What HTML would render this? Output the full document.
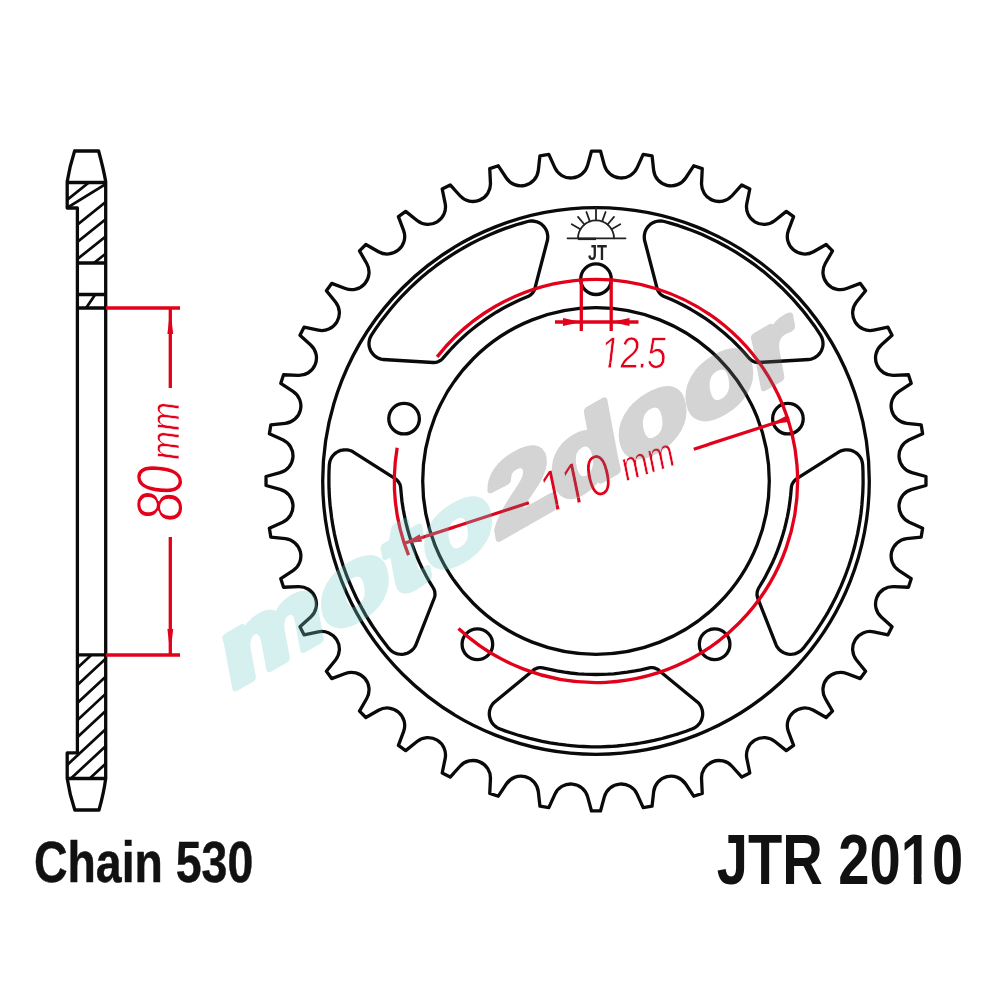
<!DOCTYPE html>
<html lang="en"><head><meta charset="utf-8"><title>JTR 2010 sprocket</title>
<style>
html,body{margin:0;padding:0;background:#fff;}
body{width:1000px;height:1000px;overflow:hidden;position:relative;font-family:"Liberation Sans",sans-serif;}
svg{position:absolute;left:0;top:0;display:block;}
text{font-family:"Liberation Sans",sans-serif;}
.k{fill:none;stroke:#0a0a0a;stroke-width:3.3;stroke-linejoin:round;stroke-linecap:round;}
.r{fill:none;stroke:#e2001a;stroke-width:3.3;stroke-linecap:butt;}
.rt{fill:#e2001a;font-style:italic;}
.lbl{fill:#111;font-weight:bold;}
</style></head><body>
<svg width="1000" height="1000" viewBox="0 0 1000 1000">
<rect width="1000" height="1000" fill="#fff"/>
<g opacity="0.999">
<path class="k" d="M591.50 151.03 L600.50 151.03 L604.34 165.10 A17.50 17.50 0 0 0 637.18 167.69 L643.17 154.39 L652.06 155.80 L653.66 170.30 A17.50 17.50 0 0 0 685.68 177.98 L693.69 165.79 L702.25 168.57 L701.55 183.14 A17.50 17.50 0 0 0 731.98 195.74 L741.79 184.95 L749.81 189.04 L746.85 203.32 A17.50 17.50 0 0 0 774.93 220.53 L786.31 211.40 L793.59 216.69 L788.43 230.34 A17.50 17.50 0 0 0 813.47 251.73 L826.14 244.49 L832.51 250.86 L825.27 263.53 A17.50 17.50 0 0 0 846.66 288.57 L860.31 283.41 L865.60 290.69 L856.47 302.07 A17.50 17.50 0 0 0 873.68 330.15 L887.96 327.19 L892.05 335.21 L881.26 345.02 A17.50 17.50 0 0 0 893.86 375.45 L908.43 374.75 L911.21 383.31 L899.02 391.32 A17.50 17.50 0 0 0 906.70 423.34 L921.20 424.94 L922.61 433.83 L909.31 439.82 A17.50 17.50 0 0 0 911.90 472.66 L925.97 476.50 L925.97 485.50 L911.90 489.34 A17.50 17.50 0 0 0 909.31 522.18 L922.61 528.17 L921.20 537.06 L906.70 538.66 A17.50 17.50 0 0 0 899.02 570.68 L911.21 578.69 L908.43 587.25 L893.86 586.55 A17.50 17.50 0 0 0 881.26 616.98 L892.05 626.79 L887.96 634.81 L873.68 631.85 A17.50 17.50 0 0 0 856.47 659.93 L865.60 671.31 L860.31 678.59 L846.66 673.43 A17.50 17.50 0 0 0 825.27 698.47 L832.51 711.14 L826.14 717.51 L813.47 710.27 A17.50 17.50 0 0 0 788.43 731.66 L793.59 745.31 L786.31 750.60 L774.93 741.47 A17.50 17.50 0 0 0 746.85 758.68 L749.81 772.96 L741.79 777.05 L731.98 766.26 A17.50 17.50 0 0 0 701.55 778.86 L702.25 793.43 L693.69 796.21 L685.68 784.02 A17.50 17.50 0 0 0 653.66 791.70 L652.06 806.20 L643.17 807.61 L637.18 794.31 A17.50 17.50 0 0 0 604.34 796.90 L600.50 810.97 L591.50 810.97 L587.66 796.90 A17.50 17.50 0 0 0 554.82 794.31 L548.83 807.61 L539.94 806.20 L538.34 791.70 A17.50 17.50 0 0 0 506.32 784.02 L498.31 796.21 L489.75 793.43 L490.45 778.86 A17.50 17.50 0 0 0 460.02 766.26 L450.21 777.05 L442.19 772.96 L445.15 758.68 A17.50 17.50 0 0 0 417.07 741.47 L405.69 750.60 L398.41 745.31 L403.57 731.66 A17.50 17.50 0 0 0 378.53 710.27 L365.86 717.51 L359.49 711.14 L366.73 698.47 A17.50 17.50 0 0 0 345.34 673.43 L331.69 678.59 L326.40 671.31 L335.53 659.93 A17.50 17.50 0 0 0 318.32 631.85 L304.04 634.81 L299.95 626.79 L310.74 616.98 A17.50 17.50 0 0 0 298.14 586.55 L283.57 587.25 L280.79 578.69 L292.98 570.68 A17.50 17.50 0 0 0 285.30 538.66 L270.80 537.06 L269.39 528.17 L282.69 522.18 A17.50 17.50 0 0 0 280.10 489.34 L266.03 485.50 L266.03 476.50 L280.10 472.66 A17.50 17.50 0 0 0 282.69 439.82 L269.39 433.83 L270.80 424.94 L285.30 423.34 A17.50 17.50 0 0 0 292.98 391.32 L280.79 383.31 L283.57 374.75 L298.14 375.45 A17.50 17.50 0 0 0 310.74 345.02 L299.95 335.21 L304.04 327.19 L318.32 330.15 A17.50 17.50 0 0 0 335.53 302.07 L326.40 290.69 L331.69 283.41 L345.34 288.57 A17.50 17.50 0 0 0 366.73 263.53 L359.49 250.86 L365.86 244.49 L378.53 251.73 A17.50 17.50 0 0 0 403.57 230.34 L398.41 216.69 L405.69 211.40 L417.07 220.53 A17.50 17.50 0 0 0 445.15 203.32 L442.19 189.04 L450.21 184.95 L460.02 195.74 A17.50 17.50 0 0 0 490.45 183.14 L489.75 168.57 L498.31 165.79 L506.32 177.98 A17.50 17.50 0 0 0 538.34 170.30 L539.94 155.80 L548.83 154.39 L554.82 167.69 A17.50 17.50 0 0 0 587.66 165.10 L591.50 151.03 Z"/>
<circle class="k" cx="596.0" cy="481.0" r="273.3"/>
<circle class="k" cx="596.0" cy="481.0" r="173.3"/>
<path class="k" d="M697.6 702.2L699.1 703.7L700.3 705.4L701.3 707.2L702.0 709.2L702.3 710.2L702.6 712.2L702.7 714.3L702.5 716.4L702.0 718.4L701.3 720.4L700.3 722.2L699.8 723.1L699.1 723.9L697.7 725.4L696.1 726.8L694.3 727.9L692.5 728.8L686.0 731.2L678.4 733.8L674.4 735.0L666.1 737.4L662.1 738.5L654.2 740.4L645.7 742.1L637.8 743.5L633.6 744.1L625.1 745.2L617.0 746.0L612.6 746.3L608.4 746.5L600.3 746.8L591.7 746.8L583.6 746.5L579.4 746.3L570.8 745.6L566.7 745.2L558.6 744.2L550.1 742.8L542.2 741.3L538.1 740.4L529.7 738.4L521.6 736.2L517.6 735.0L509.9 732.5L505.7 731.1L499.5 728.8L497.7 727.9L496.8 727.4L495.1 726.1L493.6 724.7L492.2 723.1L491.7 722.2L490.7 720.4L490.0 718.4L489.5 716.4L489.3 714.3L489.3 713.3L489.5 711.2L490.0 709.2L490.7 707.2L491.2 706.3L492.3 704.5L493.6 702.9L494.4 702.2L533.6 669.9L535.0 669.0L536.4 668.4L538.0 667.9L539.5 667.7L541.1 667.6L542.7 667.8L551.0 669.7L556.8 670.9L564.5 672.2L570.4 673.0L578.2 673.8L584.1 674.2L590.0 674.4L595.9 674.5L601.8 674.4L607.8 674.2L613.7 673.8L619.5 673.2L627.3 672.2L635.1 670.9L640.9 669.8L649.3 667.8L650.1 667.7L651.7 667.6L652.5 667.7L654.0 667.9L655.6 668.4L657.0 669.0L657.7 669.4L659.0 670.4Z"/>
<path class="k" d="M415.8 645.1L414.8 646.9L413.6 648.6L412.1 650.1L410.5 651.4L409.6 652.0L407.8 653.0L405.8 653.7L403.8 654.1L401.7 654.3L399.6 654.2L397.6 653.9L396.6 653.6L395.6 653.2L393.7 652.4L391.9 651.3L390.3 649.9L388.9 648.4L384.7 643.0L379.8 636.5L377.4 633.1L372.5 626.0L370.3 622.5L366.0 615.6L361.8 608.1L358.0 600.9L356.1 597.2L352.5 589.4L349.3 582.0L347.6 577.9L346.1 574.0L343.3 566.3L340.7 558.1L338.4 550.3L337.3 546.3L335.3 537.9L334.4 533.8L332.9 525.9L331.6 517.4L330.6 509.3L330.1 505.2L329.4 496.6L329.0 488.2L328.9 484.1L328.9 476.0L329.0 471.5L329.3 464.9L329.6 462.9L329.8 461.8L330.4 459.9L331.3 458.0L332.5 456.2L333.1 455.4L334.6 453.9L336.2 452.6L338.0 451.6L339.9 450.7L340.9 450.4L342.9 450.0L345.0 449.8L347.1 449.9L348.1 450.0L350.1 450.5L352.1 451.3L353.0 451.8L395.9 479.1L397.1 480.2L398.1 481.4L399.0 482.7L399.8 484.1L400.3 485.6L400.6 487.2L401.4 495.6L402.0 501.5L403.2 509.2L404.3 515.0L405.9 522.7L407.4 528.5L409.0 534.2L410.7 539.8L412.6 545.4L414.7 551.0L416.9 556.5L419.2 561.9L422.6 569.0L426.2 576.0L429.1 581.1L433.6 588.5L433.9 589.2L434.5 590.7L434.7 591.5L434.9 593.1L435.0 594.7L434.8 596.2L434.6 597.0L434.1 598.5Z"/>
<path class="k" d="M383.0 359.5L381.0 359.1L379.0 358.4L377.1 357.5L375.4 356.4L374.6 355.7L373.1 354.3L371.8 352.6L370.7 350.8L369.9 348.9L369.3 346.9L369.0 344.8L369.0 343.8L369.0 342.7L369.3 340.7L369.8 338.7L370.6 336.7L371.6 334.9L375.4 329.2L380.0 322.6L382.5 319.2L387.8 312.4L390.4 309.2L395.7 303.0L401.5 296.6L407.2 290.8L410.1 287.9L416.4 282.0L422.5 276.6L425.9 273.8L429.1 271.1L435.5 266.2L442.5 261.1L449.2 256.6L452.7 254.3L460.1 249.8L463.7 247.7L470.8 243.8L478.5 239.9L485.8 236.4L489.6 234.7L497.6 231.4L505.4 228.4L509.3 227.1L517.0 224.5L521.3 223.3L527.6 221.5L529.7 221.1L530.7 221.0L532.8 221.0L534.9 221.3L536.9 221.8L537.9 222.2L539.7 223.1L541.5 224.2L543.0 225.6L544.4 227.2L545.0 228.0L546.1 229.8L546.9 231.7L547.4 233.8L547.6 234.8L547.8 236.9L547.6 238.9L547.5 240.0L534.7 289.2L534.1 290.7L533.3 292.0L532.3 293.3L531.2 294.4L529.9 295.4L528.5 296.2L520.7 299.5L515.4 302.0L508.3 305.5L503.1 308.3L496.3 312.2L491.3 315.4L486.4 318.7L481.6 322.1L476.8 325.6L472.2 329.3L467.6 333.1L463.2 337.0L457.5 342.4L452.0 348.0L448.0 352.3L442.3 358.8L441.7 359.4L440.5 360.4L439.8 360.8L438.4 361.5L436.9 362.1L435.3 362.4L434.5 362.5L433.0 362.5Z"/>
<path class="k" d="M644.5 240.0L644.3 237.9L644.3 235.8L644.6 233.8L645.1 231.7L645.5 230.8L646.4 228.9L647.6 227.2L649.0 225.6L650.5 224.2L652.3 223.1L654.1 222.2L655.1 221.8L656.1 221.5L658.2 221.1L660.2 221.0L662.3 221.1L664.4 221.5L671.0 223.3L678.7 225.7L682.7 227.1L690.8 230.0L694.7 231.5L702.2 234.6L710.0 238.2L717.3 241.7L721.0 243.7L728.5 247.8L735.5 251.9L739.3 254.3L742.8 256.6L749.5 261.1L756.5 266.2L762.9 271.1L766.1 273.8L772.7 279.4L775.8 282.2L781.7 287.7L787.8 293.8L793.3 299.7L796.1 302.8L801.7 309.3L807.0 315.9L809.5 319.2L814.3 325.7L816.8 329.4L820.4 334.9L821.4 336.7L821.9 337.7L822.5 339.7L822.9 341.7L823.0 343.8L823.0 344.8L822.7 346.9L822.1 348.9L821.3 350.8L820.2 352.6L819.6 353.5L818.2 355.0L816.6 356.4L814.9 357.5L814.0 358.0L812.0 358.8L810.0 359.3L809.0 359.5L758.3 362.5L756.7 362.4L755.1 362.1L753.6 361.5L752.2 360.8L750.9 359.9L749.7 358.8L744.1 352.4L740.1 348.1L734.6 342.5L730.3 338.4L724.5 333.2L719.9 329.4L715.3 325.7L710.6 322.1L705.7 318.7L700.8 315.5L695.8 312.3L690.7 309.3L683.8 305.5L676.8 302.0L671.4 299.6L663.5 296.2L662.8 295.8L661.4 294.9L660.8 294.4L659.7 293.3L658.7 292.0L657.9 290.7L657.6 289.9L657.1 288.4Z"/>
<path class="k" d="M839.0 451.8L840.9 450.9L842.9 450.3L844.9 449.9L847.0 449.8L848.0 449.8L850.1 450.2L852.1 450.7L854.0 451.6L855.8 452.6L857.4 453.9L858.9 455.4L859.5 456.2L860.1 457.1L861.2 458.9L861.9 460.8L862.4 462.9L862.7 464.9L863.0 471.8L863.1 479.9L863.1 484.1L862.8 492.7L862.5 496.8L861.9 504.9L861.0 513.5L859.8 521.5L859.1 525.6L857.5 534.1L855.7 542.0L854.7 546.3L853.6 550.3L851.3 558.1L848.7 566.3L845.9 574.0L844.4 577.9L841.1 585.8L839.4 589.6L836.0 597.0L832.1 604.6L828.2 611.8L826.1 615.4L821.6 622.7L817.0 629.7L814.6 633.1L809.9 639.7L807.2 643.2L803.1 648.4L801.7 649.9L800.9 650.6L799.2 651.8L797.4 652.8L795.4 653.6L794.4 653.9L792.4 654.2L790.3 654.3L788.2 654.1L786.2 653.7L785.2 653.3L783.3 652.5L781.5 651.4L779.9 650.1L779.1 649.4L777.8 647.8L776.6 646.0L776.2 645.1L757.6 597.8L757.2 596.2L757.0 594.7L757.1 593.1L757.3 591.5L757.8 590.0L758.4 588.5L762.8 581.2L765.7 576.1L769.3 569.1L771.9 563.8L775.1 556.6L777.3 551.1L779.3 545.6L781.2 540.0L783.0 534.3L784.6 528.6L786.0 522.9L787.3 517.1L788.8 509.4L789.9 501.6L790.6 495.7L791.4 487.1L791.5 486.4L791.9 484.8L792.2 484.1L793.0 482.7L793.9 481.4L794.9 480.2L795.5 479.6L796.8 478.7Z"/>
<circle class="k" cx="596.00" cy="279.20" r="15.3"/>
<circle class="k" cx="787.92" cy="418.64" r="15.3"/>
<circle class="k" cx="714.62" cy="644.26" r="15.3"/>
<circle class="k" cx="477.38" cy="644.26" r="15.3"/>
<circle class="k" cx="404.08" cy="418.64" r="15.3"/>
<g fill="none" stroke="#222" stroke-width="1.8" stroke-linecap="round"><path d="M567.5 238.3 H625.5" /><path d="M578.0 238.3 A18 18 0 0 1 614.0 238.3" /><path d="M580.41 229.30 L571.75 224.30" /><path d="M584.43 224.51 L578.00 216.85" /><path d="M589.84 221.39 L586.42 211.99" /><path d="M596.00 220.30 L596.00 207.80" /><path d="M602.16 221.39 L605.58 211.99" /><path d="M607.57 224.51 L614.00 216.85" /><path d="M611.59 229.30 L620.25 224.30" /></g>
<path d="M578 238.9 H596" stroke="#222" stroke-width="2.4" fill="none"/>
<text x="597.5" y="260.3" font-size="22" font-weight="bold" text-anchor="middle" fill="#222" textLength="19" lengthAdjust="spacingAndGlyphs">JT</text>
<path class="r" d="M437.14 356.88 A201.6 201.6 0 1 1 458.51 628.44"/>
<path class="r" d="M408.56 555.21 A201.6 201.6 0 0 1 397.16 447.73"/>
<path class="r" stroke-width="3.6" d="M581.3 279 V331 M611.2 279 V331"/>
<path class="r" stroke-width="3" d="M555 322 H638.5"/>
<path fill="#e2001a" d="M581.3 322 L563 317.9 L563 326.1 Z M611.2 322 L629.5 317.9 L629.5 326.1 Z"/>
<clipPath id="c125" clipPathUnits="userSpaceOnUse"><path d="M-50 -89.2 H223.0 V-4.63 H-50 Z M9.33 0.11 L12.55 0.11 L13.49 -4.81 L10.26 -4.81 Z M24.80 -4.81 H49.60 V13.4 H24.80 Z M47.59 -4.81 H59.98 V13.4 H47.59 Z M58.43 -4.81 H83.23 V13.4 H58.43 Z"/></clipPath><text transform="translate(600.9,367.6) rotate(0) skewX(2) scale(0.795,1)" x="0.00 24.80 47.59 58.43" font-size="44.6" font-style="italic" style="font-kerning:none" fill="#e2001a" stroke="#fff" stroke-width="0.8" clip-path="url(#c125)">12.5</text>
<path class="r" stroke-width="3" d="M404.27 543.30 L528.89 502.80 M693.78 449.23 L787.73 418.70"/>
<path fill="#e2001a" d="M404.27 543.30 L421.99 541.53 L419.64 534.31 Z M770.61 424.26 L788.78 421.94 L786.68 415.47 Z"/>
<clipPath id="c110" clipPathUnits="userSpaceOnUse"><path d="M-50 -117.4 H234.8 V-5.69 H-50 Z M12.39 0.14 L16.41 0.14 L17.56 -5.91 L13.54 -5.91 Z M41.10 0.14 L45.12 0.14 L46.26 -5.91 L42.25 -5.91 Z M60.93 -5.91 H93.58 V17.6 H60.93 Z"/></clipPath><text transform="translate(547.4,513.5) rotate(-18.3) skewX(2) scale(0.78,1)" x="0.00 28.70 60.93" font-size="58.7" font-style="italic" style="font-kerning:none" fill="#e2001a" stroke="#fff" stroke-width="1.3" clip-path="url(#c110)">110</text>
<text transform="translate(626.4,481.2) rotate(-18.3) skewX(2) scale(0.78,1)" x="0.00 34.57" font-size="41.5" font-style="italic" style="font-kerning:none" fill="#e2001a" stroke="#fff" stroke-width="0.7">mm</text>
<path class="k" stroke-width="3.2" stroke-linecap="square" stroke-linejoin="miter" d="M74.6 151.0 H98.6 Q103.5 169 105.7 181.5 V481.0 M74.6 151.0 Q69.5 167 67.2 181.5 V208 H77.4 V481.0 M74.8 810.0 H99.0 Q103.8 793 105.7 778.5 V481.0 M74.8 810.0 Q69.5 794 67.2 778.5 V752.8 H77.4 V481.0 M67.2 182.5 H105.7 M77.4 263 H105.7 M77.4 294.5 H105.7 M77.4 308 H105.7 M67.2 778.5 H105.7 M77.4 654.8 H105.7"/>
<defs>
<clipPath id="h1"><path d="M67.2 182.5 H105.7 V263 H77.4 V208 H67.2 Z"/></clipPath>
<clipPath id="h2"><path d="M77.4 294.5 H105.7 V308 H77.4 Z"/></clipPath>
<clipPath id="h3"><path d="M77.4 654.8 H105.7 V778.5 H67.2 V752.8 H77.4 Z"/></clipPath>
</defs>
<path clip-path="url(#h1)" fill="none" stroke="#0a0a0a" stroke-width="2.7" d="M60 205.56 L112 163.96 M60 238.56 L112 196.96 M60 255.76 L112 214.16 M60 272.96 L112 231.36 M60 290.16 L112 248.56 M66 208.5 L106 184"/>
<path clip-path="url(#h2)" fill="none" stroke="#0a0a0a" stroke-width="2.7" d="M84 311 L97 292"/>
<path clip-path="url(#h3)" fill="none" stroke="#0a0a0a" stroke-width="2.7" d="M60 684.11 L112 635.75 M60 701.21 L112 652.85 M60 719.21 L112 670.85 M60 736.31 L112 687.95 M60 753.41 L112 705.05 M60 771.61 L112 723.25 M60 788.61 L112 740.25 M60 806.11 L112 757.75 M60 823.61 L112 775.25"/>
<path class="r" stroke-width="3.2" d="M106 308 H180 M106 655 H180"/>
<path class="r" stroke-width="2.8" d="M170.3 308 V388 M170.3 537 V655"/>
<path fill="#e2001a" d="M170.3 309 L167.4 334 L173.2 334 Z M170.3 654 L167.4 629 L173.2 629 Z"/>
<text transform="translate(181.6,521.2) rotate(-90) skewX(2) scale(0.835,1)" x="0.00 31.85" font-size="65" font-style="italic" style="font-kerning:none" fill="#e2001a" stroke="#fff" stroke-width="1.2">80</text>
<text transform="translate(178.8,459.4) rotate(-90) skewX(2) scale(0.86,1)" x="0.00 33.74" font-size="40.5" font-style="italic" style="font-kerning:none" fill="#e2001a" stroke="#fff" stroke-width="0.6">mm</text>
<g opacity="0.3" transform="translate(229,691.5) rotate(-29.6) skewX(-19) scale(1.36,1)" font-weight="bold" font-size="92.5" stroke-width="7" stroke-linejoin="round">
<text x="0" y="0"><tspan fill="#73cdca" stroke="#73cdca">moto</tspan><tspan fill="#707070" stroke="#707070">2door</tspan></text>
</g>
<text class="lbl" transform="translate(34,881.6) scale(0.814,1)" font-size="57" stroke="#111" stroke-width="0.5" style="font-kerning:none">Chain 530</text>
<clipPath id="cj" clipPathUnits="userSpaceOnUse"><path d="M-20 -85.2 H355.0 V-8.65 H-20 Z M0.00 -8.99 H39.49 V21.3 H0.00 Z M39.49 -8.99 H82.86 V21.3 H39.49 Z M82.86 -8.99 H134.13 V21.3 H82.86 Z M134.13 -8.99 H153.86 V21.3 H134.13 Z M153.86 -8.99 H193.34 V21.3 H153.86 Z M193.34 -8.99 H232.83 V21.3 H193.34 Z M249.40 -8.99 H259.14 V0.3 H249.40 Z M272.32 -8.99 H311.80 V21.3 H272.32 Z"/></clipPath>
<text class="lbl" clip-path="url(#cj)" transform="translate(716.8,884.2) scale(0.79,1)" font-size="71.0" style="font-kerning:none">JTR 2010</text>
</g>
</svg>
</body></html>
